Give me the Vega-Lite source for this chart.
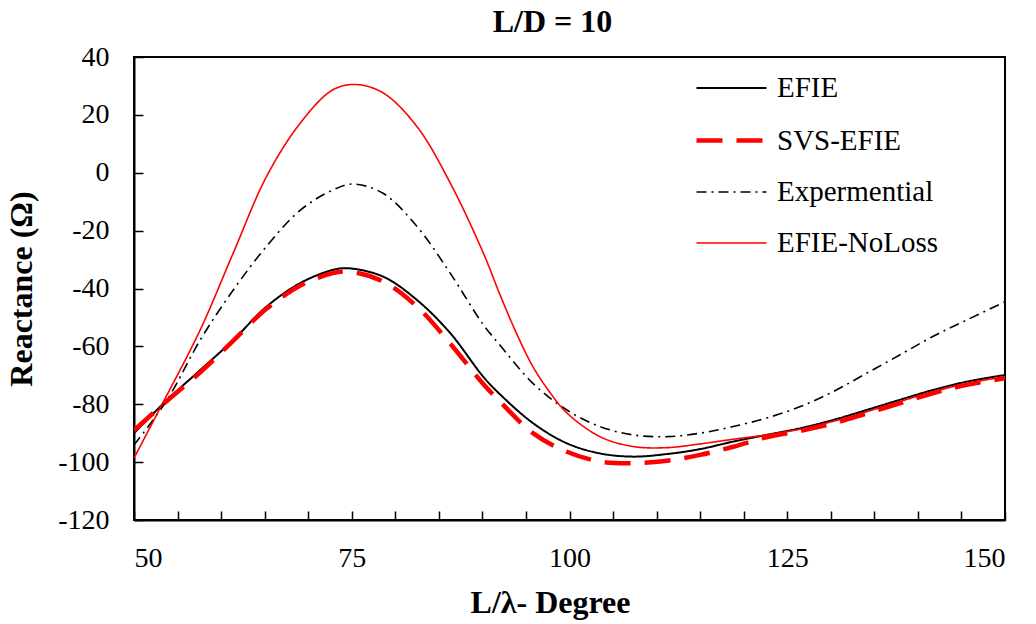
{
  "$schema": "https://vega.github.io/schema/vega-lite/v6.json",
  "width": 871,
  "height": 463,
  "autosize": {"type": "none"},
  "padding": {"left": 134, "top": 57, "right": 31, "bottom": 104},
  "background": "white",
  "title": {"text": "L/D = 10", "font": "Liberation Serif", "fontSize": 32, "fontWeight": "bold", "color": "black", "anchor": "middle", "frame": "group", "baseline": "alphabetic", "offset": -21, "dx": -17},
  "config": {
    "view": {"stroke": "black", "strokeWidth": 2}
  },
  "data": {"values": [
    {"x": 50, "y": -90, "s": "EFIE"},
    {"x": 53.8, "y": -78.5, "s": "EFIE"},
    {"x": 57.6, "y": -68.2, "s": "EFIE"},
    {"x": 61.4, "y": -57.8, "s": "EFIE"},
    {"x": 65.2, "y": -46.3, "s": "EFIE"},
    {"x": 69.1, "y": -38.1, "s": "EFIE"},
    {"x": 72.8, "y": -33.6, "s": "EFIE"},
    {"x": 74.6, "y": -33, "s": "EFIE"},
    {"x": 78.6, "y": -35.9, "s": "EFIE"},
    {"x": 82.5, "y": -44, "s": "EFIE"},
    {"x": 86.3, "y": -55.4, "s": "EFIE"},
    {"x": 90.1, "y": -70.5, "s": "EFIE"},
    {"x": 92, "y": -76.5, "s": "EFIE"},
    {"x": 95.8, "y": -86.5, "s": "EFIE"},
    {"x": 99.7, "y": -93.5, "s": "EFIE"},
    {"x": 103.5, "y": -97, "s": "EFIE"},
    {"x": 107.3, "y": -98.1, "s": "EFIE"},
    {"x": 111.2, "y": -97.2, "s": "EFIE"},
    {"x": 115, "y": -95.5, "s": "EFIE"},
    {"x": 118.8, "y": -92.9, "s": "EFIE"},
    {"x": 122.6, "y": -90.6, "s": "EFIE"},
    {"x": 126.5, "y": -88.3, "s": "EFIE"},
    {"x": 130.3, "y": -85.4, "s": "EFIE"},
    {"x": 134.1, "y": -82, "s": "EFIE"},
    {"x": 137.9, "y": -78.5, "s": "EFIE"},
    {"x": 141.7, "y": -75.1, "s": "EFIE"},
    {"x": 145.6, "y": -72.2, "s": "EFIE"},
    {"x": 150, "y": -69.9, "s": "EFIE"},

    {"x": 50, "y": -94.1, "s": "Expermential"},
    {"x": 53.8, "y": -78.5, "s": "Expermential"},
    {"x": 57.6, "y": -57.8, "s": "Expermential"},
    {"x": 61.4, "y": -40.5, "s": "Expermential"},
    {"x": 65.2, "y": -25.5, "s": "Expermential"},
    {"x": 69.1, "y": -12.9, "s": "Expermential"},
    {"x": 72.8, "y": -6, "s": "Expermential"},
    {"x": 75.1, "y": -3.9, "s": "Expermential"},
    {"x": 78.6, "y": -7.1, "s": "Expermential"},
    {"x": 82.5, "y": -18.6, "s": "Expermential"},
    {"x": 86.3, "y": -34.7, "s": "Expermential"},
    {"x": 90.1, "y": -52.5, "s": "Expermential"},
    {"x": 92, "y": -59.5, "s": "Expermential"},
    {"x": 95.8, "y": -72.8, "s": "Expermential"},
    {"x": 99.7, "y": -82, "s": "Expermential"},
    {"x": 103.5, "y": -87.7, "s": "Expermential"},
    {"x": 107.3, "y": -90.6, "s": "Expermential"},
    {"x": 111.2, "y": -91.2, "s": "Expermential"},
    {"x": 115, "y": -90, "s": "Expermential"},
    {"x": 118.8, "y": -87.7, "s": "Expermential"},
    {"x": 122.6, "y": -84.8, "s": "Expermential"},
    {"x": 126.5, "y": -80.8, "s": "Expermential"},
    {"x": 130.3, "y": -75.6, "s": "Expermential"},
    {"x": 134.1, "y": -69.3, "s": "Expermential"},
    {"x": 137.9, "y": -63, "s": "Expermential"},
    {"x": 141.7, "y": -56.6, "s": "Expermential"},
    {"x": 145.6, "y": -50.9, "s": "Expermential"},
    {"x": 150, "y": -44.6, "s": "Expermential"},

    {"x": 50, "y": -98.6, "s": "EFIE-NoLoss"},
    {"x": 53, "y": -81.3, "s": "EFIE-NoLoss"},
    {"x": 57.6, "y": -54.3, "s": "EFIE-NoLoss"},
    {"x": 61.4, "y": -27.7, "s": "EFIE-NoLoss"},
    {"x": 65.2, "y": -1.4, "s": "EFIE-NoLoss"},
    {"x": 69.1, "y": 17.2, "s": "EFIE-NoLoss"},
    {"x": 72.8, "y": 28.6, "s": "EFIE-NoLoss"},
    {"x": 75.4, "y": 30.5, "s": "EFIE-NoLoss"},
    {"x": 78.6, "y": 27.6, "s": "EFIE-NoLoss"},
    {"x": 82.5, "y": 15.9, "s": "EFIE-NoLoss"},
    {"x": 86.3, "y": -3.5, "s": "EFIE-NoLoss"},
    {"x": 90.1, "y": -27.7, "s": "EFIE-NoLoss"},
    {"x": 92, "y": -42, "s": "EFIE-NoLoss"},
    {"x": 93.9, "y": -55.4, "s": "EFIE-NoLoss"},
    {"x": 95.8, "y": -67, "s": "EFIE-NoLoss"},
    {"x": 97.8, "y": -76.1, "s": "EFIE-NoLoss"},
    {"x": 99.7, "y": -83, "s": "EFIE-NoLoss"},
    {"x": 103.5, "y": -91.2, "s": "EFIE-NoLoss"},
    {"x": 107.3, "y": -94.6, "s": "EFIE-NoLoss"},
    {"x": 111.2, "y": -95, "s": "EFIE-NoLoss"},
    {"x": 115, "y": -93.7, "s": "EFIE-NoLoss"},
    {"x": 118.8, "y": -92.1, "s": "EFIE-NoLoss"},
    {"x": 122.6, "y": -90.6, "s": "EFIE-NoLoss"},
    {"x": 126.5, "y": -88.6, "s": "EFIE-NoLoss"},
    {"x": 130.3, "y": -85.9, "s": "EFIE-NoLoss"},
    {"x": 134.1, "y": -82.6, "s": "EFIE-NoLoss"},
    {"x": 137.9, "y": -79.1, "s": "EFIE-NoLoss"},
    {"x": 141.7, "y": -75.7, "s": "EFIE-NoLoss"},
    {"x": 145.6, "y": -72.8, "s": "EFIE-NoLoss"},
    {"x": 150, "y": -70.5, "s": "EFIE-NoLoss"},

    {"x": 50, "y": -89, "s": "SVS-EFIE"},
    {"x": 53.8, "y": -78.8, "s": "SVS-EFIE"},
    {"x": 57.6, "y": -69, "s": "SVS-EFIE"},
    {"x": 61.4, "y": -58, "s": "SVS-EFIE"},
    {"x": 65.2, "y": -47, "s": "SVS-EFIE"},
    {"x": 69.1, "y": -39, "s": "SVS-EFIE"},
    {"x": 72.8, "y": -34.7, "s": "SVS-EFIE"},
    {"x": 74.8, "y": -34.2, "s": "SVS-EFIE"},
    {"x": 78.6, "y": -37.6, "s": "SVS-EFIE"},
    {"x": 82.5, "y": -46.3, "s": "SVS-EFIE"},
    {"x": 86.3, "y": -59, "s": "SVS-EFIE"},
    {"x": 90.1, "y": -73, "s": "SVS-EFIE"},
    {"x": 92, "y": -79, "s": "SVS-EFIE"},
    {"x": 95.8, "y": -90, "s": "SVS-EFIE"},
    {"x": 99.7, "y": -96.4, "s": "SVS-EFIE"},
    {"x": 103.5, "y": -99.8, "s": "SVS-EFIE"},
    {"x": 107.3, "y": -100.4, "s": "SVS-EFIE"},
    {"x": 111.2, "y": -99.5, "s": "SVS-EFIE"},
    {"x": 115, "y": -97.5, "s": "SVS-EFIE"},
    {"x": 118.8, "y": -94.7, "s": "SVS-EFIE"},
    {"x": 122.6, "y": -91.4, "s": "SVS-EFIE"},
    {"x": 126.5, "y": -89.2, "s": "SVS-EFIE"},
    {"x": 130.3, "y": -86.6, "s": "SVS-EFIE"},
    {"x": 134.1, "y": -83.2, "s": "SVS-EFIE"},
    {"x": 137.9, "y": -79.7, "s": "SVS-EFIE"},
    {"x": 141.7, "y": -76.2, "s": "SVS-EFIE"},
    {"x": 145.6, "y": -73.3, "s": "SVS-EFIE"},
    {"x": 150, "y": -71, "s": "SVS-EFIE"}
  ]},
  "mark": {"type": "line", "interpolate": "catmull-rom", "clip": true},
  "encoding": {
    "x": {"field": "x", "type": "quantitative", "scale": {"domain": [50, 150], "nice": false},
      "axis": {"title": "L/λ- Degree", "grid": false, "domainColor": "black", "domainWidth": 2, "tickColor": "black", "tickWidth": 1.5,
        "labelFont": "Liberation Serif", "labelFontSize": 28, "labelColor": "black", "titleFont": "Liberation Serif", "titleFontSize": 32, "titleFontWeight": "bold", "titleColor": "black", "titleX": 416,
        "values": [50,55,60,65,70,75,80,85,90,95,100,105,110,115,120,125,130,135,140,145,150], "labelExpr": "datum.value % 25 === 0 ? '' + datum.value : ''", "tickSize": -9, "labelPadding": 33, "titlePadding": 15}},
    "y": {"field": "y", "type": "quantitative", "scale": {"domain": [-120, 40], "nice": false},
      "axis": {"title": "Reactance (Ω)", "grid": false, "domainColor": "black", "domainWidth": 2, "tickColor": "black", "tickWidth": 1.5,
        "labelFont": "Liberation Serif", "labelFontSize": 28, "labelColor": "black", "titleFont": "Liberation Serif", "titleFontSize": 32, "titleFontWeight": "bold", "titleColor": "black",
        "values": [-120,-100,-80,-60,-40,-20,0,20,40], "labelExpr": "'' + datum.value", "tickSize": -9, "labelPadding": 34, "titlePadding": 19}},
    "color": {"field": "s", "type": "nominal", "scale": {"domain": ["EFIE", "SVS-EFIE", "Expermential", "EFIE-NoLoss"], "range": ["black", "#ff0000", "black", "#ff0000"]},
      "legend": {"title": null, "orient": "none", "legendX": 560, "legendY": -5, "symbolType": "stroke", "symbolSize": 4900, "labelFont": "Liberation Serif", "labelFontSize": 29, "labelColor": "black", "labelLimit": 400, "rowPadding": -1, "labelOffset": 8}},
    "strokeDash": {"field": "s", "type": "nominal", "scale": {"domain": ["EFIE", "SVS-EFIE", "Expermential", "EFIE-NoLoss"], "range": [[1, 0], [26, 14], [10, 5, 2, 5], [1, 0]]}},
    "strokeWidth": {"field": "s", "type": "nominal", "scale": {"type": "ordinal", "domain": ["EFIE", "SVS-EFIE", "Expermential", "EFIE-NoLoss"], "range": [2, 4.5, 1.6, 1.6]}},
    "order": {"field": "x", "type": "quantitative"}
  }
}
